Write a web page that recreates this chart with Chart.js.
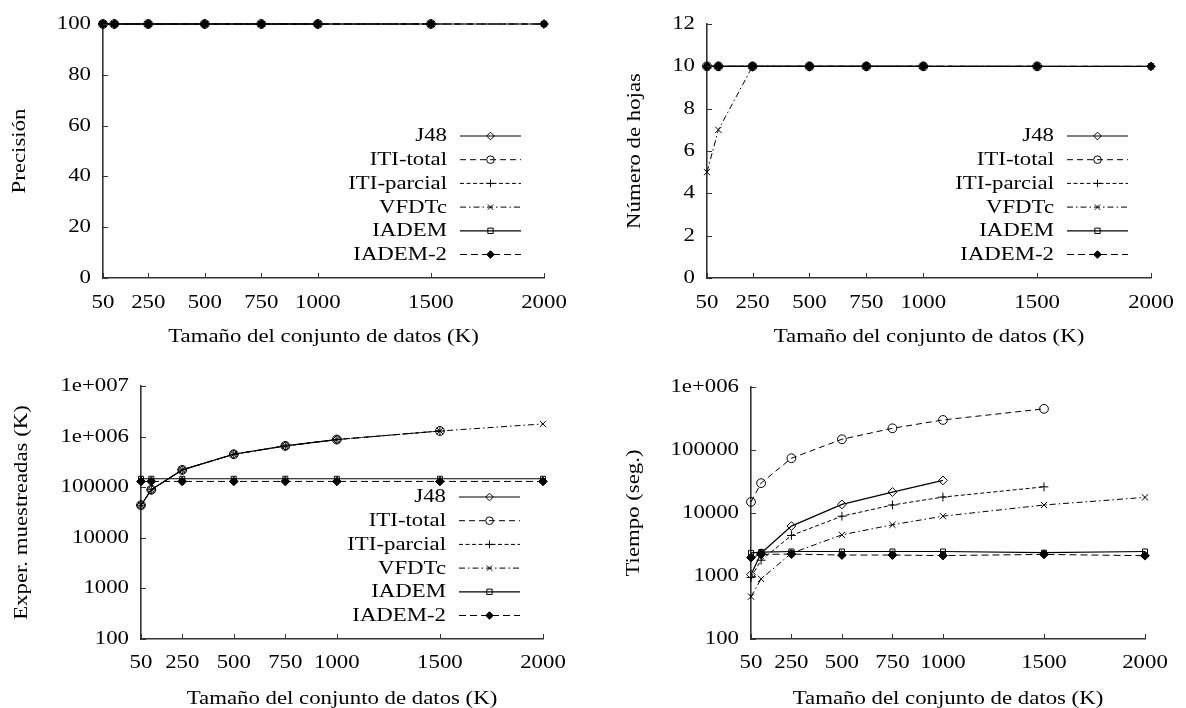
<!DOCTYPE html>
<html>
<head>
<meta charset="utf-8">
<script src="https://cdn.jsdelivr.net/npm/chart.js@4.4.1/dist/chart.umd.min.js"></script>
<style>
  body { margin: 0; background: #fff; width: 1186px; height: 708px; position: relative; overflow: hidden; }
  canvas { position: absolute; }
</style>
</head>
<body>
<canvas id="precision" width="593" height="354" style="left:0;top:0"></canvas>
<canvas id="hojas" width="593" height="354" style="left:593px;top:0"></canvas>
<canvas id="exper" width="593" height="354" style="left:0;top:354px"></canvas>
<canvas id="tiempo" width="593" height="354" style="left:593px;top:354px"></canvas>
<script>
// data
const sizes = [50, 100, 250, 500, 750, 1000, 1500, 2000];
const xTicks = [50, 250, 500, 750, 1000, 1500, 2000];
const seriesNames = ['J48', 'ITI-total', 'ITI-parcial', 'VFDTc', 'IADEM', 'IADEM-2'];

const precisionJ48 = [100, 100, 100, 100, 100, 100];
const precisionItiTotal = [100, 100, 100, 100, 100, 100, 100];
const precisionItiParcial = [100, 100, 100, 100, 100, 100, 100];
const precisionVfdtc = [100, 100, 100, 100, 100, 100, 100, 100];
const precisionIadem = [100, 100, 100, 100, 100, 100, 100, 100];
const precisionIadem2 = [100, 100, 100, 100, 100, 100, 100, 100];

const hojasJ48 = [10, 10, 10, 10, 10, 10];
const hojasItiTotal = [10, 10, 10, 10, 10, 10, 10];
const hojasItiParcial = [10, 10, 10, 10, 10, 10, 10];
const hojasVfdtc = [5, 7, 10, 10, 10, 10, 10, 10];
const hojasIadem = [10, 10, 10, 10, 10, 10, 10, 10];
const hojasIadem2 = [10, 10, 10, 10, 10, 10, 10, 10];

const experJ48 = [44000, 89000, 220000, 448000, 655000, 875000];
const experItiTotal = [44000, 89000, 220000, 448000, 655000, 875000, 1290000];
const experItiParcial = [44000, 89000, 220000, 448000, 655000, 875000, 1290000];
const experVfdtc = [44000, 89000, 220000, 448000, 655000, 875000, 1290000, 1780000];
const experIadem = [147000, 147000, 147000, 147000, 147000, 147000, 147000, 147000];
const experIadem2 = [130000, 130000, 130000, 130000, 130000, 130000, 130000, 130000];

const tiempoJ48 = [1050, 2300, 6200, 13700, 21500, 32900];
const tiempoItiTotal = [15000, 29800, 74000, 148000, 221000, 300000, 450000];
const tiempoItiParcial = [950, 1780, 4400, 8900, 13400, 17900, 26000];
const tiempoVfdtc = [470, 900, 2300, 4500, 6500, 8900, 13400, 17700];
const tiempoIadem = [2330, 2400, 2450, 2450, 2450, 2450, 2350, 2450];
const tiempoIadem2 = [1960, 2200, 2230, 2150, 2150, 2110, 2200, 2100];

const precisionTicks = [0, 20, 40, 60, 80, 100];
const hojasTicks = [0, 2, 4, 6, 8, 10, 12];
const experTicks = [100, 1000, 10000, 100000, 1000000, 10000000];
const experTickLabels = ['100', '1000', '10000', '100000', '1e+006', '1e+007'];
const tiempoTicks = [100, 1000, 10000, 100000, 1000000];
const tiempoTickLabels = ['100', '1000', '10000', '100000', '1e+006'];

// look of each series (gnuplot style point types)
const looks = [
  { pointStyle: 'rectRot', dash: [], fill: 'rgba(0,0,0,0)', width: 1.2 },
  { pointStyle: 'circle', dash: [6, 4], fill: 'rgba(0,0,0,0)', width: 1 },
  { pointStyle: 'cross', dash: [4, 2.5], fill: 'rgba(0,0,0,0)', width: 1 },
  { pointStyle: 'crossRot', dash: [6, 3, 1.5, 3], fill: 'rgba(0,0,0,0)', width: 1 },
  { pointStyle: 'rect', dash: [], fill: 'rgba(0,0,0,0)', width: 1.2 },
  { pointStyle: 'rectRot', dash: [7, 4], fill: '#000', width: 1 }
];

Chart.defaults.font.family = '"Liberation Serif", "Times New Roman", serif';
Chart.defaults.font.size = 19;
Chart.defaults.color = '#000';

function makeSets(lists) {
  return lists.map((vals, i) => ({
    label: seriesNames[i],
    data: vals.map((v, j) => ({ x: sizes[j], y: v })),
    borderColor: '#000',
    borderWidth: looks[i].width,
    borderDash: looks[i].dash,
    pointStyle: looks[i].pointStyle,
    pointRadius: looks[i].pointStyle === 'rect' ? 3.5 : 4.4,
    pointBorderWidth: 1,
    pointBorderColor: '#000',
    pointBackgroundColor: looks[i].fill,
    fill: false,
    clip: false,
    tension: 0
  }));
}

// the reference text is a wide Times, stretch glyphs sideways around their anchor
const wideText = {
  id: 'wideText',
  beforeDraw(chart) {
    const ctx = chart.ctx;
    if (ctx._wide) return;
    const plain = ctx.fillText.bind(ctx);
    ctx.fillText = function (text, x, y) {
      ctx.save();
      ctx.translate(x, y);
      ctx.scale(1.2, 1);
      plain(text, 0, 0);
      ctx.restore();
    };
    ctx._wide = true;
  }
};

// small ticks pointing inside the plot
const innerTicks = {
  id: 'innerTicks',
  afterDraw(chart) {
    const ctx = chart.ctx, a = chart.chartArea;
    const x = chart.scales.x, y = chart.scales.y;
    ctx.save();
    ctx.strokeStyle = '#333';
    ctx.lineWidth = 1;
    ctx.beginPath();
    x.ticks.forEach(t => {
      const px = Math.round(x.getPixelForValue(t.value)) + 0.5;
      ctx.moveTo(px, a.bottom);
      ctx.lineTo(px, a.bottom - 5);
    });
    y.ticks.forEach(t => {
      const py = Math.round(y.getPixelForValue(t.value)) + 0.5;
      ctx.moveTo(a.left, py);
      ctx.lineTo(a.left + 5, py);
    });
    ctx.stroke();
    ctx.restore();
  }
};

// legend: text on the left, line sample with marker on the right
const lineLegend = {
  id: 'lineLegend',
  afterDraw(chart, args, opts) {
    if (!opts.show) return;
    const ctx = chart.ctx, a = chart.chartArea;
    const sets = chart.data.datasets;
    ctx.save();
    sets.forEach((ds, i) => {
      const yy = a.bottom - 24 - (sets.length - 1 - i) * 23.7;
      ctx.fillStyle = '#000';
      ctx.font = '19px "Liberation Serif", serif';
      ctx.textAlign = 'right';
      ctx.textBaseline = 'middle';
      ctx.fillText(ds.label, a.right - 97, yy + 1);
      ctx.strokeStyle = '#000';
      ctx.lineWidth = ds.borderWidth;
      ctx.setLineDash(ds.borderDash);
      ctx.beginPath();
      ctx.moveTo(a.right - 84, yy + 0.5);
      ctx.lineTo(a.right - 23, yy + 0.5);
      ctx.stroke();
      ctx.setLineDash([]);
      ctx.fillStyle = ds.pointBackgroundColor;
      ctx.lineWidth = 1;
      Chart.helpers.drawPoint(ctx, { pointStyle: ds.pointStyle, radius: 3.8, borderWidth: 1 }, a.right - 53.5, yy + 0.5);
    });
    ctx.restore();
  }
};

function makeChart(id, lists, yScale, box) {
  new Chart(document.getElementById(id), {
    type: 'line',
    data: { datasets: makeSets(lists) },
    plugins: [wideText, innerTicks, lineLegend],
    options: {
      responsive: false,
      animation: false,
      layout: { padding: { top: box.top, right: box.right, left: 0, bottom: 0 } },
      plugins: {
        legend: { display: false },
        tooltip: { enabled: false },
        lineLegend: { show: box.legend }
      },
      scales: {
        x: {
          type: 'linear',
          min: 50,
          max: 2000,
          afterBuildTicks: s => { s.ticks = xTicks.map(v => ({ value: v })); },
          afterFit: s => { s.height = box.xh; },
          ticks: { callback: v => String(v), padding: box.tp, autoSkip: false, maxRotation: 0 },
          grid: { display: false, drawTicks: false },
          border: { color: '#333', width: 1.6 },
          title: { display: true, text: 'Tamaño del conjunto de datos (K)', padding: { top: 0, bottom: box.xpb } }
        },
        y: Object.assign({
          afterFit: s => { s.width = box.left; },
          grid: { display: false, drawTicks: false },
          border: { color: '#333', width: 1.6 },
        }, yScale)
      }
    }
  });
}

function linearY(ticks, title, pt) {
  return {
    type: 'linear',
    min: ticks[0],
    max: ticks[ticks.length - 1],
    afterBuildTicks: s => { s.ticks = ticks.map(v => ({ value: v })); },
    ticks: { callback: v => String(v), padding: 12 },
    title: { display: true, text: title, padding: { top: pt, bottom: 0 } }
  };
}

function logY(ticks, labels, title, pt) {
  return {
    type: 'logarithmic',
    min: ticks[0],
    max: ticks[ticks.length - 1],
    afterBuildTicks: s => { s.ticks = ticks.map(v => ({ value: v })); },
    ticks: { callback: v => labels[ticks.indexOf(v)], padding: 12 },
    title: { display: true, text: title, padding: { top: pt, bottom: 0 } }
  };
}

//charts
makeChart('precision',
  [precisionJ48, precisionItiTotal, precisionItiParcial, precisionVfdtc, precisionIadem, precisionIadem2],
  linearY(precisionTicks, 'Precisión', 8.6),
  { top: 24, right: 49, left: 103, xh: 76, tp: 14, xpb: 5.5, legend: true });

makeChart('hojas',
  [hojasJ48, hojasItiTotal, hojasItiParcial, hojasVfdtc, hojasIadem, hojasIadem2],
  linearY(hojasTicks, 'Número de hojas', 30.6),
  { top: 24, right: 35, left: 114, xh: 76, tp: 14, xpb: 5.5, legend: true });

makeChart('exper',
  [experJ48, experItiTotal, experItiParcial, experVfdtc, experIadem, experIadem2],
  logY(experTicks, experTickLabels, 'Exper. muestreadas (K)', 10.6),
  { top: 32, right: 50, left: 141, xh: 69, tp: 13, xpb: -2.5, legend: true });

makeChart('tiempo',
  [tiempoJ48, tiempoItiTotal, tiempoItiParcial, tiempoVfdtc, tiempoIadem, tiempoIadem2],
  logY(tiempoTicks, tiempoTickLabels, 'Tiempo (seg.)', 29.6),
  { top: 33, right: 41, left: 158, xh: 69, tp: 13, xpb: -2.5, legend: false });
</script>
</body>
</html>
